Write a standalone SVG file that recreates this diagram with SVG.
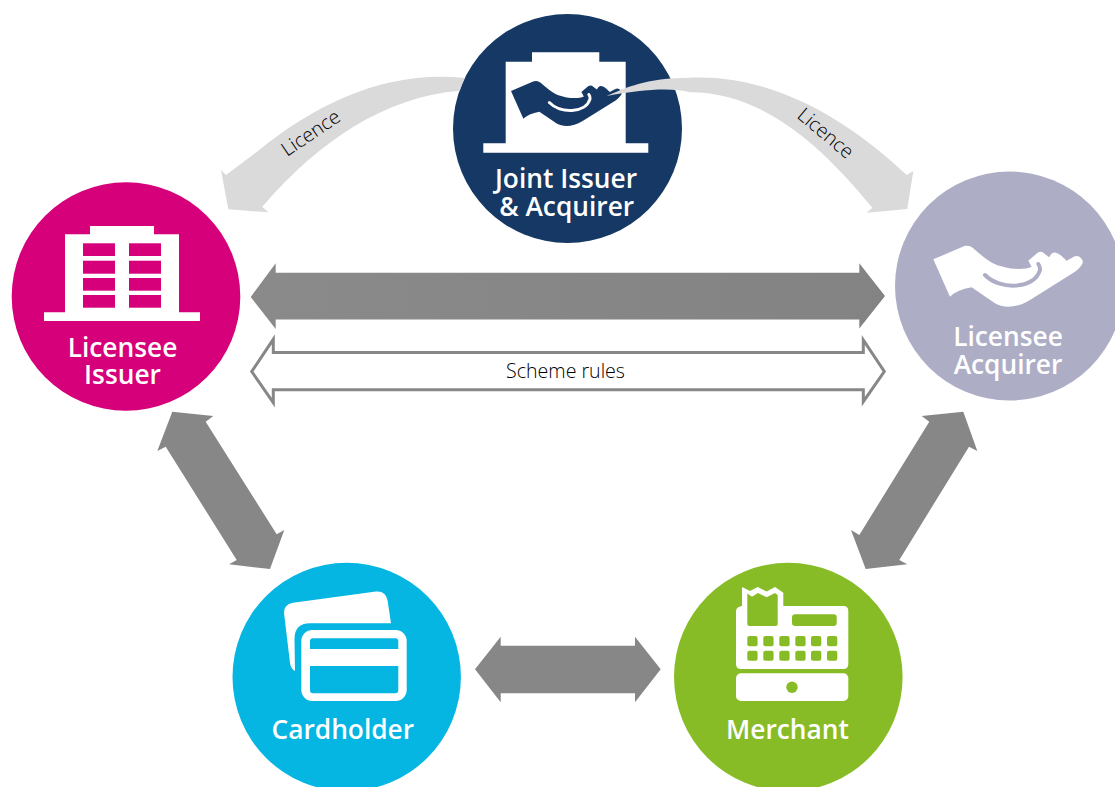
<svg xmlns="http://www.w3.org/2000/svg" width="1115" height="787" viewBox="0 0 1115 787">
<style>
.label{font-family:"Open Sans","Noto Sans","Liberation Sans",sans-serif;font-weight:600;font-size:26.3px;fill:#fff;text-anchor:middle}
.note{font-family:"Open Sans","Noto Sans","Liberation Sans",sans-serif;font-weight:300;font-size:19.6px;fill:#000}
.w{fill:#fff}
.thick{fill:#878787}
.licence{fill:#dadada}
</style>
<defs>
<linearGradient id="bigGrad" x1="0" x2="1" y1="0" y2="0"><stop offset="0" stop-color="#8a8a8a"/><stop offset="1" stop-color="#838383"/></linearGradient>
<g id="hand">
<path fill="currentColor" stroke="none" d="M0 13.3L28.3 1.3Q35-2 40 2.3C53.3 14 60 19 70 20.7C80 24 93.3 23.3 98.3 20.7L95 14.7L104 7Q108.3 4.5 111 7.5L116 11.3Q118 6 122 6.5Q126 7.5 128.3 10L133.3 14.7L141 10.5Q145 9 148 12.5Q151 16 148 19.5Q146 22.5 141.7 25.7L96.7 54C83.3 62.3 70 62.3 61.7 57.3L38.3 41.3Q23.3 44 16.7 50.7Z"/>
<path fill="none" stroke-width="4" stroke-linecap="round" d="M51.7 29C66 44 101 44 106.7 24Q107 21 105 18"/>
</g>
</defs>
<g id="node-joint">
<circle cx="567.5" cy="128.5" r="114.5" fill="#163864"/>
<path class="w" d="M532 52.3H599.3V61.7H625.7V143.3H648.3V152.7H483.3V143.3H505.7V61.7H532Z"/>
<use href="#hand" transform="translate(511 81.1) scale(.741)" color="#163864" stroke="#fff"/>
<text class="label" x="566" y="188">Joint Issuer</text>
<text class="label" x="566.7" y="216">&amp; Acquirer</text>
</g>
<g id="node-issuer">
<circle cx="126" cy="296.5" r="114.3" fill="#d6007a"/>
<path class="w" d="M90 226H154V234.3H179V312.3H200V321H44V312.3H65V234.3H90Z"/>
<g fill="#d6007a">
<rect x="83" y="243.3" width="32" height="12.7"/><rect x="129" y="243.3" width="32" height="12.7"/>
<rect x="83" y="260.7" width="32" height="13"/><rect x="129" y="260.7" width="32" height="13"/>
<rect x="83" y="278" width="32" height="12.7"/><rect x="129" y="278" width="32" height="12.7"/>
<rect x="83" y="295" width="32" height="12.7"/><rect x="129" y="295" width="32" height="12.7"/>
</g>
<text class="label" x="122.5" y="357">Licensee</text>
<text class="label" x="122.5" y="384">Issuer</text>
</g>
<g id="node-acquirer">
<circle cx="1009.5" cy="286" r="114.5" fill="#adadc6"/>
<use href="#hand" transform="translate(933.3 246)" color="#fff" stroke="#adadc6"/>
<text class="label" x="1008" y="346">Licensee</text>
<text class="label" x="1008" y="373.5">Acquirer</text>
</g>
<g id="node-cardholder">
<circle cx="346.7" cy="677" r="114.2" fill="#05b5e2"/>
<path class="w" d="M284 613Q283.5 604.5 293 602.7L376 591.5Q385.5 590.5 387.5 600L391 623.3H310Q294.5 623.3 294.5 639L295 671Q291 669 290 663Z"/>
<rect class="w" x="301.3" y="630" width="105.4" height="71" rx="11"/>
<path fill="#05b5e2" d="M313 638.3H395.3Q398.3 638.3 398.3 641.3V649H310V641.3Q310 638.3 313 638.3ZM310 666H398.3V690.3Q398.3 693.3 395.3 693.3H313Q310 693.3 310 690.3Z"/>
<text class="label" x="342.8" y="738.5">Cardholder</text>
</g>
<g id="node-merchant">
<circle cx="788.3" cy="677" r="114.3" fill="#88bc27"/>
<path class="w" d="M742 587L750 591L757.7 587L766.7 591.5L775 587L783.3 592.7V606H843.3Q848.3 606 848.3 611V664Q848.3 669 843.3 669H741Q736 669 736 664V611Q736 607 742 606Z"/>
<path fill="#88bc27" d="M747.3 593.5L752 596.7L758 593L766.7 597.3L775 593L777.7 595V624Q777.7 626 775.7 626H749.3Q747.3 626 747.3 624Z"/>
<rect x="792" y="614.3" width="44.7" height="11.7" rx="3" fill="#88bc27"/>
<g fill="#88bc27">
<rect x="747.3" y="636" width="10.3" height="10.3" rx="2"/><rect x="763.3" y="636" width="10.3" height="10.3" rx="2"/><rect x="779.3" y="636" width="10.3" height="10.3" rx="2"/><rect x="795.3" y="636" width="10.3" height="10.3" rx="2"/><rect x="811" y="636" width="10.3" height="10.3" rx="2"/><rect x="827" y="636" width="10.3" height="10.3" rx="2"/>
<rect x="747.3" y="650.7" width="10.3" height="10" rx="2"/><rect x="763.3" y="650.7" width="10.3" height="10" rx="2"/><rect x="779.3" y="650.7" width="10.3" height="10" rx="2"/><rect x="795.3" y="650.7" width="10.3" height="10" rx="2"/><rect x="811" y="650.7" width="10.3" height="10" rx="2"/><rect x="827" y="650.7" width="10.3" height="10" rx="2"/>
</g>
<rect class="w" x="736" y="673.3" width="112.3" height="27.7" rx="5"/>
<circle cx="792" cy="687.3" r="5.7" fill="#88bc27"/>
<text class="label" x="787.5" y="738.5">Merchant</text>
</g>
<g id="connectors">
<path class="licence" d="M464.7 78C390 70 320 100 256.7 152L226 175L221 170L228.3 209.3L268.3 212.3L262.3 206.7C320 140 385 97 459.7 90.7Z"/>
<path class="licence" d="M606.7 96C625 88 645 78 690 77.7C765 74 840 112 906.7 175L913.3 171L907.3 209L866.7 212.7L872.3 207.7C825 150 765 92 690 92.3C670 87 640 90 606.7 96Z"/>
<text class="note" transform="translate(287 157) rotate(-34)">Licence</text>
<text class="note" transform="translate(796 117) rotate(40)">Licence</text>
<path fill="url(#bigGrad)" d="M250.7 297L275.7 263.3V272.7H859.3V263.3L885 296L859.3 328.5V319.5H275.7V329Z"/>
<path fill="#fff" stroke="#878787" stroke-width="3" d="M251.7 371.5L273.3 339.3V352.5H863.3V340L884.3 371.5L863.3 401.7V389.7H273.3V402.7Z"/>
<text class="note" x="565.5" y="377.5" text-anchor="middle">Scheme rules</text>
<path class="thick" d="M172.3 411.7L213.3 416L205.7 421.7L276.7 534.3L284.3 530L270 569L229 564.3L236.7 560L165.7 446.7L157.3 451Z"/>
<path class="thick" d="M963.3 411.7L977.3 451L969 446.7L899.3 560L907.3 564.3L865.7 569L851 530L859.3 535L929.3 421.7L921.7 416Z"/>
<path class="thick" d="M475 669.3L500.7 636.7V645.7H635V636.7L660.7 669.3L635 702.3V693.3H500.7V702.3Z"/>
</g>
</svg>
